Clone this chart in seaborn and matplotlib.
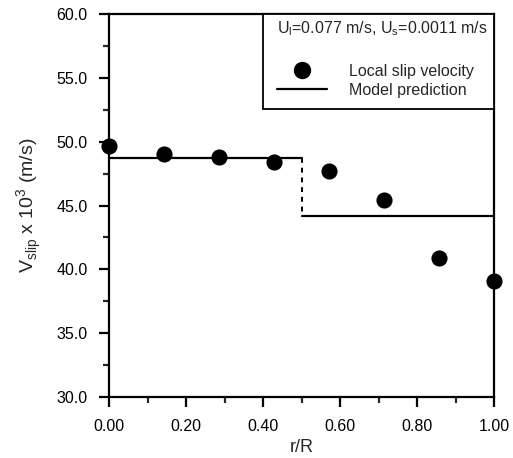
import matplotlib
matplotlib.use("Agg")
import matplotlib.pyplot as plt
from matplotlib.ticker import MultipleLocator, FormatStrFormatter
from matplotlib.lines import Line2D
from matplotlib.patches import Rectangle
import seaborn as sns
import pandas as pd

# Measured local slip velocity (x 10^3 m/s) across the radius
r_over_R = [0.0, 0.143, 0.286, 0.429, 0.571, 0.714, 0.857, 1.0]
v_slip = [49.7, 49.0, 48.8, 48.4, 47.7, 45.4, 40.9, 39.1]

# Two-zone model prediction: core (r/R < 0.5) and wall region (r/R > 0.5)
zone_edges = [0.0, 0.5, 1.0]
zone_slip = [48.7, 44.2]

legend_title = r"U$_\mathregular{l}$=0.077 m/s, U$_\mathregular{s}$=0.0011 m/s"
series_labels = ["Local slip velocity", "Model prediction"]

sns.set_theme(style="ticks")
plt.rcParams["font.family"] = ["Liberation Sans", "DejaVu Sans"]
plt.rcParams["mathtext.fontset"] = "custom"
plt.rcParams["mathtext.rm"] = "Liberation Sans"

fig = plt.figure(figsize=(5.13, 4.58), dpi=100)
ax = fig.add_axes([0.2125, 0.1332, 0.7505, 0.8362])

# model steps
for i, v in enumerate(zone_slip):
    seg = pd.DataFrame({"r": zone_edges[i:i + 2], "v": [v, v]})
    sns.lineplot(data=seg, x="r", y="v", ax=ax, color="black", lw=1.6,
                 estimator=None, sort=False)
jump = pd.DataFrame({"r": [zone_edges[1], zone_edges[1]], "v": zone_slip})
sns.lineplot(data=jump, x="r", y="v", ax=ax, color="black", lw=1.4,
             linestyle=(0, (2.5, 2.5)), estimator=None, sort=False)

pts = pd.DataFrame({"r": r_over_R, "v": v_slip})
sns.scatterplot(data=pts, x="r", y="v", ax=ax, color="black", s=135,
                edgecolor="black", linewidth=0, zorder=5, clip_on=False)

ax.set_xlim(0, 1)
ax.set_ylim(30, 60)
ax.xaxis.set_major_locator(MultipleLocator(0.2))
ax.xaxis.set_minor_locator(MultipleLocator(0.1))
ax.yaxis.set_major_locator(MultipleLocator(5))
ax.yaxis.set_minor_locator(MultipleLocator(2.5))
ax.xaxis.set_major_formatter(FormatStrFormatter("%.2f"))
ax.yaxis.set_major_formatter(FormatStrFormatter("%.1f"))
ax.tick_params(which="major", direction="out", length=7.5, width=1.6,
               labelsize=11.5, colors="black")
ax.tick_params(which="minor", direction="out", length=4, width=1.6)
ax.tick_params(axis="x", which="major", pad=8)
ax.tick_params(axis="y", which="major", pad=8)
for s in ax.spines.values():
    s.set_linewidth(1.6)
    s.set_color("black")

ax.set_xlabel("r/R", fontsize=13, labelpad=4)
ax.set_ylabel(r"V$_\mathregular{slip}$ x 10$^\mathregular{3}$ (m/s)",
              fontsize=14, labelpad=9)

# legend box anchored to the upper-right corner of the axes
ax.add_patch(Rectangle((0.40, 0.752), 0.60, 0.248, transform=ax.transAxes,
                       facecolor="white", edgecolor="black", lw=1.3,
                       zorder=6, clip_on=False))
handles = [
    Line2D([], [], marker="o", color="black", linestyle="none", markersize=11.5),
    Line2D([], [], color="black", lw=1.6),
]
leg = ax.legend(handles, series_labels,
                title=legend_title, loc="upper left",
                bbox_to_anchor=(0.425, 1.0),
                borderaxespad=0, fontsize=11.5, title_fontsize=11.5,
                handlelength=3.1, handletextpad=1.4, labelspacing=0.25,
                frameon=False, borderpad=0.3, alignment="left")
leg.set_zorder(7)
leg._legend_box.sep = 19

fig.savefig("out.png", dpi=100)
